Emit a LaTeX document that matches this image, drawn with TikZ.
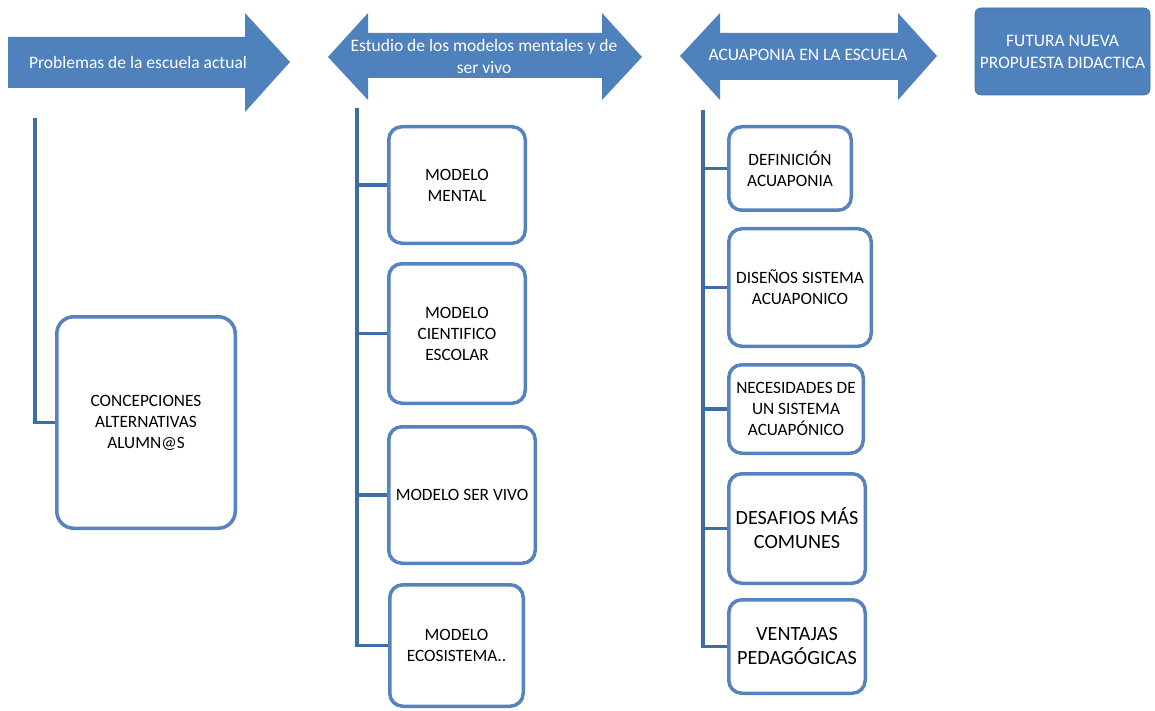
\documentclass[tikz,border=0pt]{standalone}
\usepackage{fontspec}
\setmainfont{Carlito}
\definecolor{ablue}{HTML}{4F81BD}
\definecolor{bblue}{HTML}{5683C0}
\definecolor{lblue}{HTML}{3E6CA4}
\begin{document}
\begin{tikzpicture}[x=1pt,y=-1pt,
 arrowshape/.style={fill=ablue, draw=none},
 hdr/.style={text=white, font=\fontsize{17.5}{22}\selectfont, align=center, inner sep=0},
 box/.style={draw=bblue, line width=3.5pt, rounded corners=13pt, fill=white, align=center,
   font=\fontsize{17.3}{21}\selectfont, inner sep=0, text=black},
 bigbox/.style={box, font=\fontsize{20.2}{24}\selectfont},
 link/.style={draw=lblue, line width=3.5pt, line join=miter},
 topbox/.style={fill=ablue, draw=ablue!85!black, line width=0.6pt, rounded corners=6pt,
   text=white, align=center, font=\fontsize{17.5}{22}\selectfont, inner sep=0}
]
\useasboundingbox (0,0) rectangle (1155,711);
% header arrows
\path[arrowshape] (8,37) -- (245,37) -- (245,13) -- (290,62) -- (245,112) -- (245,88) -- (8,88) -- cycle;
\path[arrowshape] (328,57) -- (368,13) -- (368,33) -- (602,33) -- (602,13) -- (642,57) -- (602,100) -- (602,78) -- (368,78) -- (368,100) -- cycle;
\path[arrowshape] (680,56) -- (720,13) -- (720,33) -- (898,33) -- (898,13) -- (937,56) -- (898,100) -- (898,80) -- (720,80) -- (720,100) -- cycle;
\node[hdr] (h1) at (138,62) {Problemas de la escuela actual};
\node[hdr] (h2) at (484,56) {Estudio de los modelos mentales y de\\ser vivo};
\node[hdr] (h3) at (808,55) {ACUAPONIA EN LA ESCUELA};
\node[topbox, minimum width=175pt, minimum height=87pt] (fut) at (1062.5,51.5) {FUTURA NUEVA\\PROPUESTA DIDACTICA};
% boxes
\node[box, rounded corners=17pt, minimum width=178.5pt, minimum height=211.5pt] (c1) at (146,422.5) {CONCEPCIONES\\ALTERNATIVAS\\ALUMN@S};
\node[box, minimum width=136.5pt, minimum height=116.5pt] (m1) at (457,185) {MODELO\\MENTAL};
\node[box, minimum width=136.5pt, minimum height=139.5pt] (m2) at (457,333.5) {MODELO\\CIENTIFICO\\ESCOLAR};
\node[box, minimum width=146.5pt, minimum height=136.5pt] (m3) at (462,495) {MODELO SER VIVO};
\node[box, minimum width=133.5pt, minimum height=121.5pt] (m4) at (456.5,645.5) {MODELO\\ECOSISTEMA..};
\node[box, minimum width=122.5pt, minimum height=83.5pt] (a1) at (790,168.5) {DEFINICIÓN\\ACUAPONIA};
\node[box, minimum width=142.5pt, minimum height=117.5pt] (a2) at (800,287.5) {DISEÑOS SISTEMA\\ACUAPONICO};
\node[box, minimum width=134.5pt, minimum height=88.5pt] (a3) at (796,409) {NECESIDADES DE\\UN SISTEMA\\ACUAPÓNICO};
\node[bigbox, minimum width=136.5pt, minimum height=109.5pt] (a4) at (797,528.5) {DESAFIOS MÁS\\COMUNES};
\node[bigbox, minimum width=136.5pt, minimum height=93.5pt] (a5) at (797,646.5) {VENTAJAS\\PEDAGÓGICAS};
% trunks and branches
\coordinate (t1) at (35,118);
\coordinate (t2) at (357,108);
\coordinate (t3) at (703,110);
\draw[link] (t1) |- (c1.west);
\draw[link] (t2) |- (m4.west);
\foreach \b in {m1,m2,m3} \draw[link] (t2 |- \b.west) -- (\b.west);
\draw[link] (t3) |- (a5.west);
\foreach \b in {a1,a2,a3,a4} \draw[link] (t3 |- \b.west) -- (\b.west);
\end{tikzpicture}
\end{document}
